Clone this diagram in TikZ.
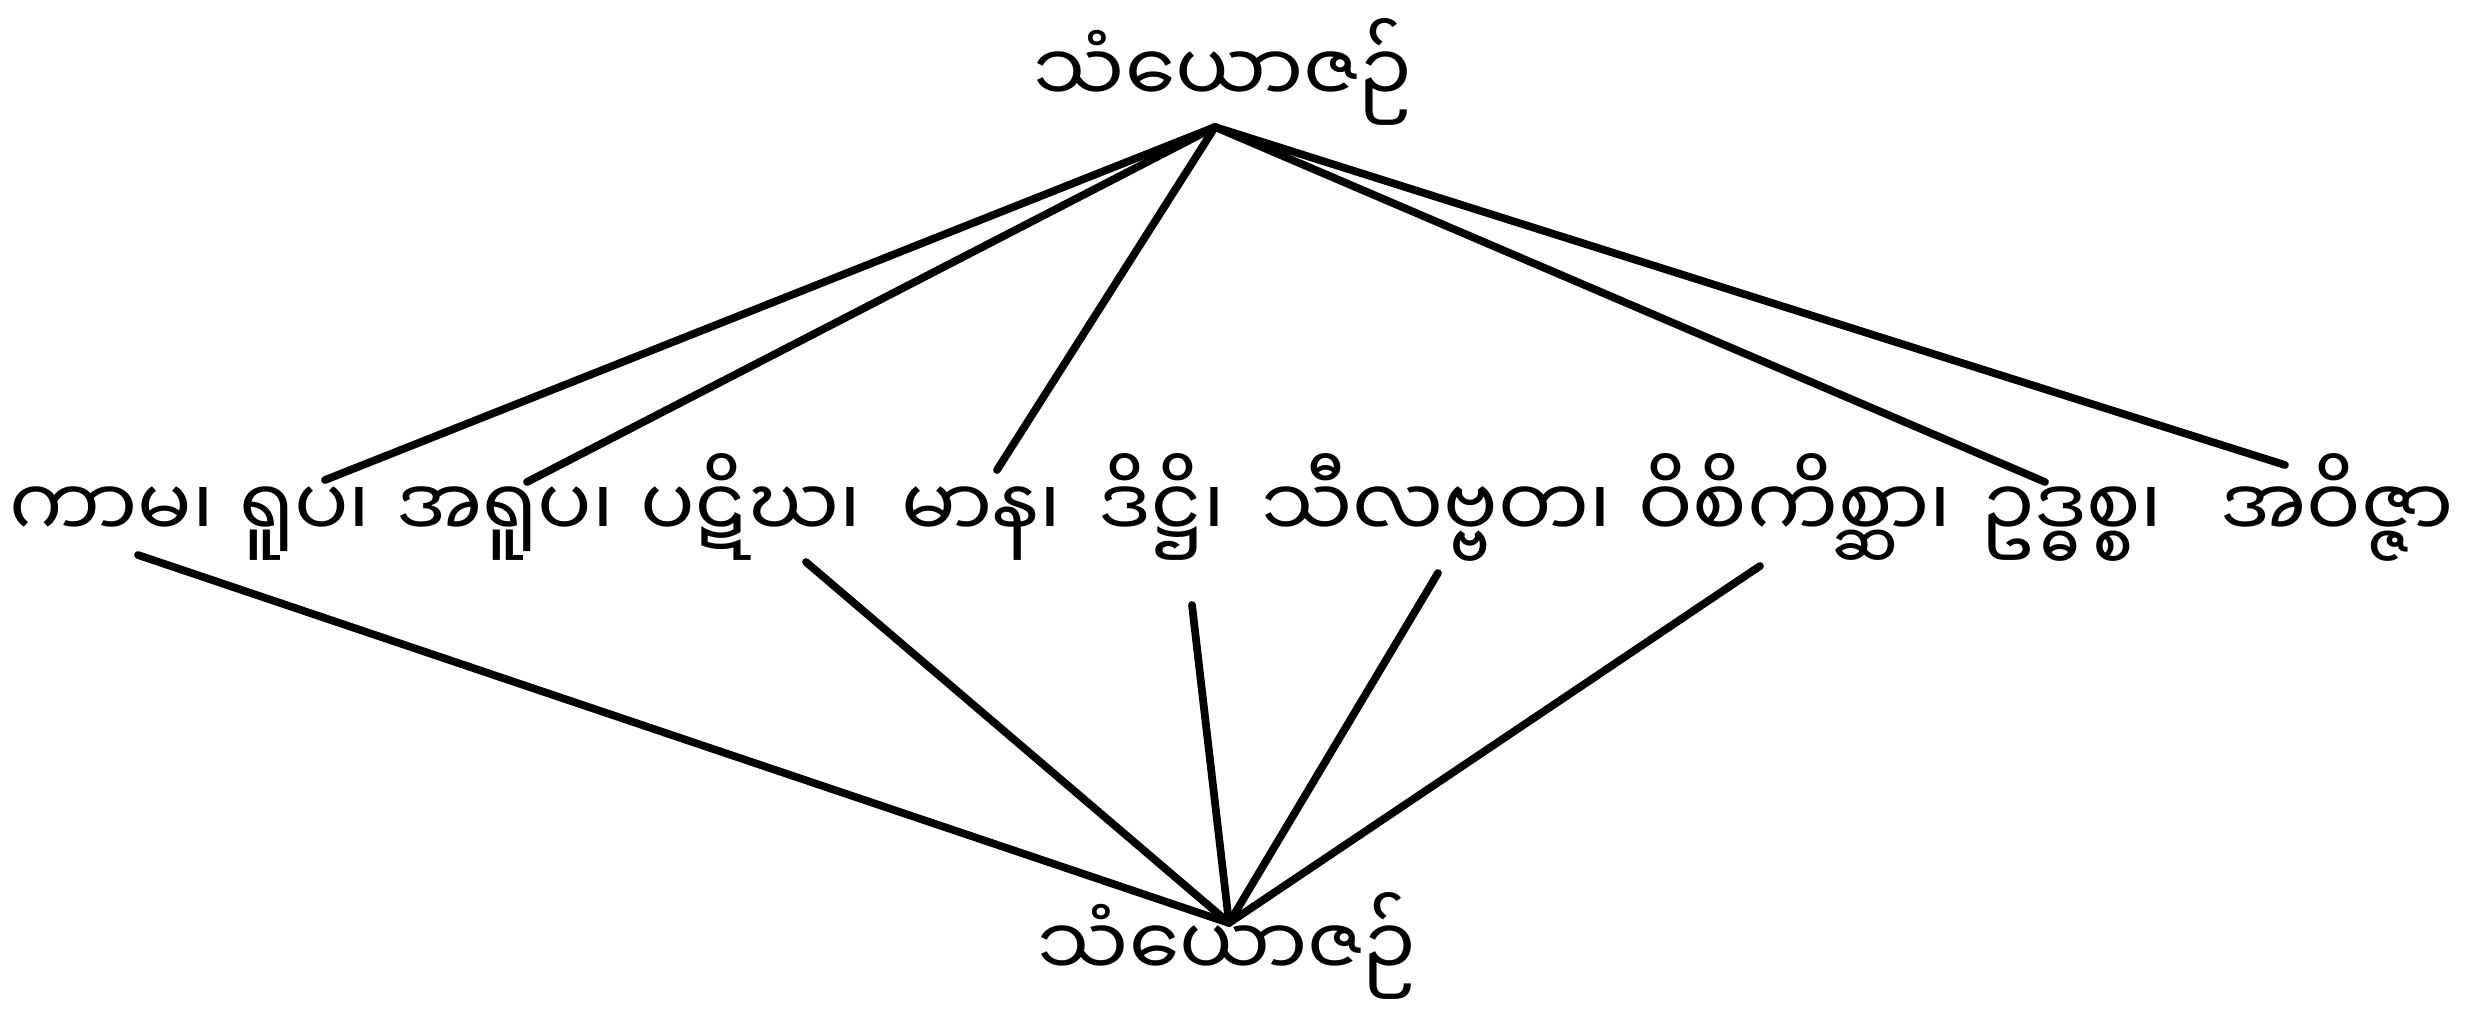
\documentclass[tikz,border=0pt]{standalone}
\usepackage{fontspec}
\usetikzlibrary{calc}
\newfontfamily\mya[Script=Myanmar]{Noto Sans Myanmar UI}
\begin{document}
\begin{tikzpicture}[x=0.01cm,y=-0.01cm,
  word/.style={font=\mya\fontsize{23}{28}\selectfont, inner sep=0pt, anchor=base},
  link/.style={line width=2.2pt, line cap=round}]
\useasboundingbox (0,0) rectangle (2466,1012);
\node[word] (top) at (1223,103) {သံယောဇဉ်};
\node[word] (bot) at (1227,977) {သံယောဇဉ်};
\node[word] (w1) at (112,538) {ကာမ၊};
\node[word] (w2) at (305,538) {ရူပ၊};
\node[word] (w3) at (505,538) {အရူပ၊};
\node[word] (w4) at (751,538) {ပဋိဃ၊};
\node[word] (w5) at (981,538) {မာန၊};
\node[word] (w6) at (1162,538) {ဒိဋ္ဌိ၊};
\node[word] (w7) at (1436,538) {သီလဗ္ဗတ၊};
\node[word] (w8) at (1795,538) {ဝိစိကိစ္ဆာ၊};
\node[word] (w9) at (2072,538) {ဥဒ္ဓစ္စ၊};
\node[word] (w10) at (2337,538) {အဝိဇ္ဇာ};
\coordinate (ta) at ($(top.base)+(-8,24)$);
\coordinate (ba) at ($(bot.base)+(2,-54)$);
\draw[link] (ta) -- ($(w2.base)+(20,-58)$);
\draw[link] (ta) -- ($(w3.base)+(22,-56)$);
\draw[link] (ta) -- ($(w5.base)+(16,-68)$);
\draw[link] (ta) -- ($(w9.base)+(-27,-56)$);
\draw[link] (ta) -- ($(w10.base)+(-52,-73)$);
\draw[link] ($(w1.base)+(26,17)$) -- (ba);
\draw[link] ($(w4.base)+(55,24)$) -- (ba);
\draw[link] ($(w6.base)+(30,67)$) -- (ba);
\draw[link] ($(w7.base)+(2,35)$) -- (ba);
\draw[link] ($(w8.base)+(-35,28)$) -- (ba);
\end{tikzpicture}
\end{document}
